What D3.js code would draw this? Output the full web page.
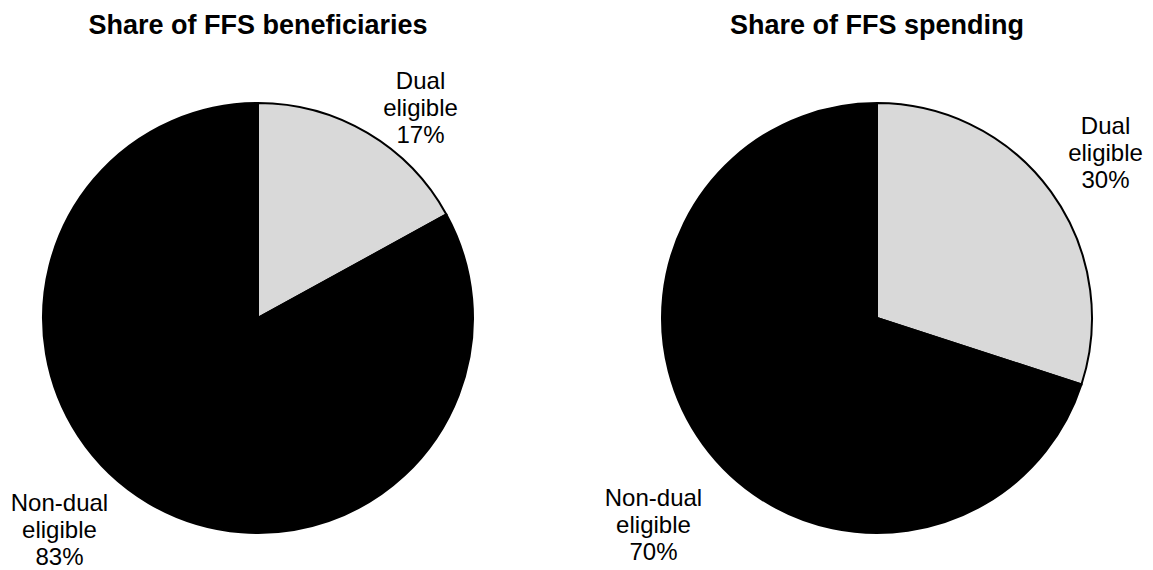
<!DOCTYPE html>
<html lang="en">
  <head>
    <meta charset="UTF-8" />
    <title>FFS pies</title>
    <style>
      body {
        margin: 0;
        background: #fff;
      }
      text {
        font-family: "Liberation Sans", Arial, sans-serif;
        fill: #000;
      }
      .title {
        font-weight: bold;
        font-size: 27px;
      }
      .label {
        font-size: 24px;
      }
    </style>
  </head>
  <body>
    <div id="chart"></div>
    <script src="https://cdn.jsdelivr.net/npm/d3@7"></script>
    <script>
      /* global d3 */

      // chart data
      let titles = ["Share of FFS beneficiaries", "Share of FFS spending"];
      let categories = [["Dual", "eligible"], ["Non-dual", "eligible"]];
      let beneficiaries = [17, 83];
      let spending = [30, 70];
      let colors = ["#d9d9d9", "#000000"];

      let width = 1153,
        height = 570,
        radius = 215;

      let svg = d3
        .select("#chart")
        .append("svg")
        .attr("width", width)
        .attr("height", height);

      // one pie per panel, labels pushed off the slice centroid a bit
      let panels = [
        { title: titles[0], values: beneficiaries, cx: 258, cy: 318,
          nudge: [[20, 31], [-56, -29]] },
        { title: titles[1], values: spending, cx: 877, cy: 318,
          nudge: [[2, 0], [3, 42]] }
      ];

      let pie = d3.pie().sort(null).value(function (d) { return d; });
      let arc = d3.arc().innerRadius(0).outerRadius(radius);
      let labelArc = d3.arc().innerRadius(280).outerRadius(280);
      let lineHeight = 27;

      panels.forEach(function (p) {
        let g = svg.append("g").attr("transform", "translate(" + p.cx + "," + p.cy + ")");

        svg
          .append("text")
          .attr("class", "title")
          .attr("x", p.cx)
          .attr("y", 34)
          .attr("text-anchor", "middle")
          .text(p.title);

        let arcs = pie(p.values);

        g.selectAll("path")
          .data(arcs)
          .enter()
          .append("path")
          .attr("d", arc)
          .attr("fill", function (d, i) { return colors[i]; })
          .attr("stroke", "#000")
          .attr("stroke-width", 2);

        let labels = g
          .selectAll("text.label")
          .data(arcs)
          .enter()
          .append("text")
          .attr("class", "label")
          .attr("text-anchor", "middle")
          .attr("transform", function (d, i) {
            let c = labelArc.centroid(d);
            return "translate(" + (c[0] + p.nudge[i][0]) + "," + (c[1] + p.nudge[i][1]) + ")";
          });

        labels.each(function (d, i) {
          let lines = categories[i].concat([d.data + "%"]);
          let t = d3.select(this);
          lines.forEach(function (s, k) {
            t.append("tspan")
              .attr("x", 0)
              .attr("y", (k - 1) * lineHeight + 8)
              .text(s);
          });
        });
      });
    </script>
  </body>
</html>
